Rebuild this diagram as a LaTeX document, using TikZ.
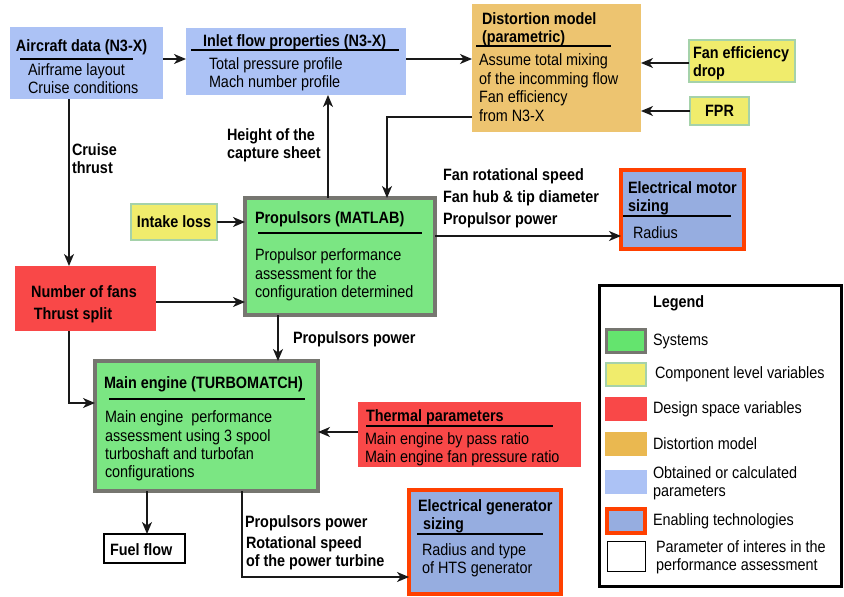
\documentclass[tikz,border=0pt]{standalone}
\usepackage{graphicx}
\usepackage{fontspec}
\setmainfont{Liberation Sans}
\usetikzlibrary{arrows.meta}
\definecolor{obt}{RGB}{172,194,245}
\definecolor{dist}{RGB}{237,196,112}
\definecolor{distleg}{RGB}{234,184,80}
\definecolor{comp}{RGB}{240,236,108}
\definecolor{compb}{RGB}{165,210,170}
\definecolor{des}{RGB}{249,72,72}
\definecolor{sys}{RGB}{123,230,131}
\definecolor{sysleg}{RGB}{100,228,110}
\definecolor{sysb}{RGB}{118,118,112}
\definecolor{ena}{RGB}{150,173,224}
\definecolor{enab}{RGB}{255,64,0}
\definecolor{lc}{RGB}{25,25,25}
\newcommand{\ml}[1]{\scalebox{1}[1.14]{\begin{tabular}{@{}l@{}}#1\end{tabular}}}
\begin{document}
\begin{tikzpicture}[x=1pt,y=-1pt,
  bx/.style={anchor=north west, inner sep=0, outer sep=0},
  obtbox/.style={bx, fill=obt},
  distbox/.style={bx, fill=dist},
  compbox/.style={bx, fill=comp, draw=compb, line width=1.5},
  desbox/.style={bx, fill=des},
  sysbox/.style={bx, fill=sys, draw=sysb, line width=3.5},
  enabox/.style={bx, fill=ena, draw=enab, line width=4},
  parbox/.style={bx, draw=black, line width=1.5},
  t/.style={anchor=west, inner sep=0, outer sep=0, yshift=-2.2pt, font=\fontsize{14.4}{16}\selectfont},
  bt/.style={t, font=\fontsize{14.4}{16}\selectfont\bfseries},
  ul/.style={line width=1.5},
  arr/.style={draw=lc, line width=1.3, -{Stealth[length=12,width=10,inset=3.5]}}
]
\useasboundingbox (0,0) rectangle (844,597);

% ---------- boxes ----------
\node[obtbox, minimum width=153, minimum height=72] (aircraft) at (10,27) {};
\node[obtbox, minimum width=220, minimum height=67] (inlet) at (186,28) {};
\node[distbox, minimum width=169, minimum height=128] (dist) at (472,4) {};
\node[compbox, minimum width=106, minimum height=42] (fandrop) at (689,40) {};
\node[compbox, minimum width=59, minimum height=28] (fpr) at (690,97) {};
\node[compbox, minimum width=86, minimum height=36] (intake) at (131,204) {};
\node[sysbox, minimum width=190, minimum height=117] (prop) at (245,198) {};
\node[enabox, minimum width=123, minimum height=79] (motor) at (621,170) {};
\node[desbox, minimum width=141, minimum height=65] (nfans) at (15,266) {};
\node[sysbox, minimum width=223, minimum height=130] (main) at (95,361) {};
\node[desbox, minimum width=223, minimum height=65] (thermal) at (358,402) {};
\node[parbox, minimum width=81, minimum height=29] (fuel) at (104,534) {};
\node[enabox, minimum width=152, minimum height=104] (gen) at (409,490) {};

% ---------- box texts ----------
\node[bt] (aircraftT) at (16,46) {\ml{Aircraft data (N3-X)}};
\draw[ul] (20,59) -- (133,59);
\node[t] (aircraftB) at (28,79) {\ml{Airframe layout\\Cruise conditions}};

\node[bt] (inletT) at (203,41) {\ml{Inlet flow properties (N3-X)}};
\draw[ul] (191,50) -- (399,50);
\node[t] (inletB) at (209,73) {\ml{Total pressure profile\\Mach number profile}};

\node[bt, font=\fontsize{14.4}{16.6}\selectfont\bfseries] (distT) at (482,27.5) {\ml{Distortion model\\(parametric)}};
\draw[ul] (476,46) -- (611,46);
\node[t, font=\fontsize{14.4}{16.6}\selectfont] (distB) at (479,87.5) {\ml{Assume total mixing\\of the incomming flow\\Fan efficiency\\from N3-X}};

\node[bt] (fandropT) at (693,62) {\ml{Fan efficiency\\drop}};
\node[bt, anchor=center] (fprT) at (fpr.center) {\ml{FPR}};
\node[bt, anchor=center] (intakeT) at (intake.center) {\ml{Intake loss}};

\node[bt] (propT) at (255,218) {\ml{Propulsors (MATLAB)}};
\draw[ul] (258,233) -- (422,233);
\node[t, font=\fontsize{14.4}{16.2}\selectfont] (propB) at (255,273.5) {\ml{Propulsor performance\\assessment for the\\configuration determined}};

\node[bt, font=\fontsize{14.4}{16.6}\selectfont\bfseries] (motorT) at (628,196.5) {\ml{Electrical motor\\sizing}};
\draw[ul] (623,216) -- (731,216);
\node[t] (motorB) at (633,233) {\ml{Radius}};

\node[bt, anchor=center] (nfansT1) at (84,292) {\ml{Number of fans}};
\node[bt, anchor=center] (nfansT2) at (73,314) {\ml{Thrust split}};

\node[bt] (mainT) at (104,383) {\ml{Main engine (TURBOMATCH)}};
\draw[ul] (109,399) -- (305,399);
\node[t] (mainB) at (105,444.5) {\ml{Main engine\ \ performance\\assessment using 3 spool\\turboshaft and turbofan\\configurations}};

\node[bt] (thermalT) at (366,416) {\ml{Thermal parameters}};
\draw[ul] (366,426) -- (553,426);
\node[t] (thermalB) at (365,448) {\ml{Main engine by pass ratio\\Main engine fan pressure ratio}};

\node[bt] (fuelT) at (110,550) {\ml{Fuel flow}};

\node[bt] (genT1) at (418,506) {\ml{Electrical generator}};
\node[bt] (genT2) at (423,524) {\ml{sizing}};
\draw[ul] (417,534) -- (543,534);
\node[t, font=\fontsize{14.4}{16.6}\selectfont] (genB) at (422,558.5) {\ml{Radius and type\\of HTS generator}};

% ---------- connector labels ----------
\node[bt] (lcruise) at (72,159) {\ml{Cruise\\thrust}};
\node[bt] (lheight) at (227,144) {\ml{Height of the\\capture sheet}};
\node[bt, font=\fontsize{14.4}{19.2}\selectfont\bfseries] (lfan) at (443,196) {\ml{Fan rotational speed\\Fan hub \& tip diameter\\Propulsor power}};
\node[bt] (lpp) at (293,338) {\ml{Propulsors power}};
\node[bt] (lpp2) at (245,522) {\ml{Propulsors power}};
\node[bt] (lrot) at (246,552) {\ml{Rotational speed\\of the power turbine}};

% ---------- connectors ----------
\draw[arr] (aircraft.east |- 0,59) -- (inlet.west |- 0,59);
\draw[arr] (inlet.east |- 0,59) -- (dist.west |- 0,59);
\draw[arr] (fandrop.west |- 0,63) -- (dist.east |- 0,63);
\draw[arr] (fpr.west |- 0,111) -- (dist.east |- 0,111);
\draw[arr] (dist.west |- 0,117) -| (prop.north -| 387,0);
\draw[arr] (prop.north -| 328,0) -- (inlet.south -| 328,0);
\draw[arr] (intake.east) -- (prop.west |- intake.east);
\draw[arr] (aircraft.south -| 69,0) -- (nfans.north -| 69,0);
\draw[arr] (nfans.east |- 0,302) -- (prop.west |- 0,302);
\draw[arr] (nfans.south -| 69,0) |- (main.west |- 0,403);
\draw[arr] (prop.south -| 278,0) -- (main.north -| 278,0);
\draw[arr] (prop.east |- 0,236) -- (motor.west |- 0,236);
\draw[arr] (thermal.west |- 0,432) -- (main.east |- 0,432);
\draw[arr] (main.south -| 147,0) -- (fuel.north -| 147,0);
\draw[arr] (main.south -| 242,0) |- (gen.west |- 0,577);

% ---------- legend ----------
\node[bx, draw=black, line width=3, minimum width=242, minimum height=301] (legend) at (599.5,285.5) {};
\node[bt] (legT) at (653,302) {\ml{Legend}};
\node[bx, fill=sysleg, draw=sysb, line width=3] (sysL) at (606.5,329.5) [minimum width=39, minimum height=23] {};
\node[bx, fill=comp, draw=compb, line width=1.5] (compL) at (606,363) [minimum width=40, minimum height=23] {};
\node[bx, fill=des] (desL) at (605,397) [minimum width=42, minimum height=24] {};
\node[bx, fill=distleg] (distL) at (605,432) [minimum width=42, minimum height=24] {};
\node[bx, fill=obt] (obtL) at (605,470) [minimum width=42, minimum height=24] {};
\node[bx, fill=ena, draw=enab, line width=4] (enaL) at (607,509) [minimum width=38, minimum height=24] {};
\node[bx, draw=black, line width=1.5] (parL) at (607.5,541.5) [minimum width=38, minimum height=30] {};
\node[t] (sysLT) at (653,340) {\ml{Systems}};
\node[t] (compLT) at (655,373) {\ml{Component level variables}};
\node[t] (desLT) at (653,408) {\ml{Design space variables}};
\node[t] (distLT) at (653,444) {\ml{Distortion model}};
\node[t, font=\fontsize{14.4}{16.6}\selectfont] (obtLT) at (653,481.5) {\ml{Obtained or calculated\\parameters}};
\node[t] (enaLT) at (653,520) {\ml{Enabling technologies}};
\node[t, font=\fontsize{14.4}{16.6}\selectfont] (parLT) at (656,555.5) {\ml{Parameter of interes in the\\performance assessment}};
\end{tikzpicture}
\end{document}
